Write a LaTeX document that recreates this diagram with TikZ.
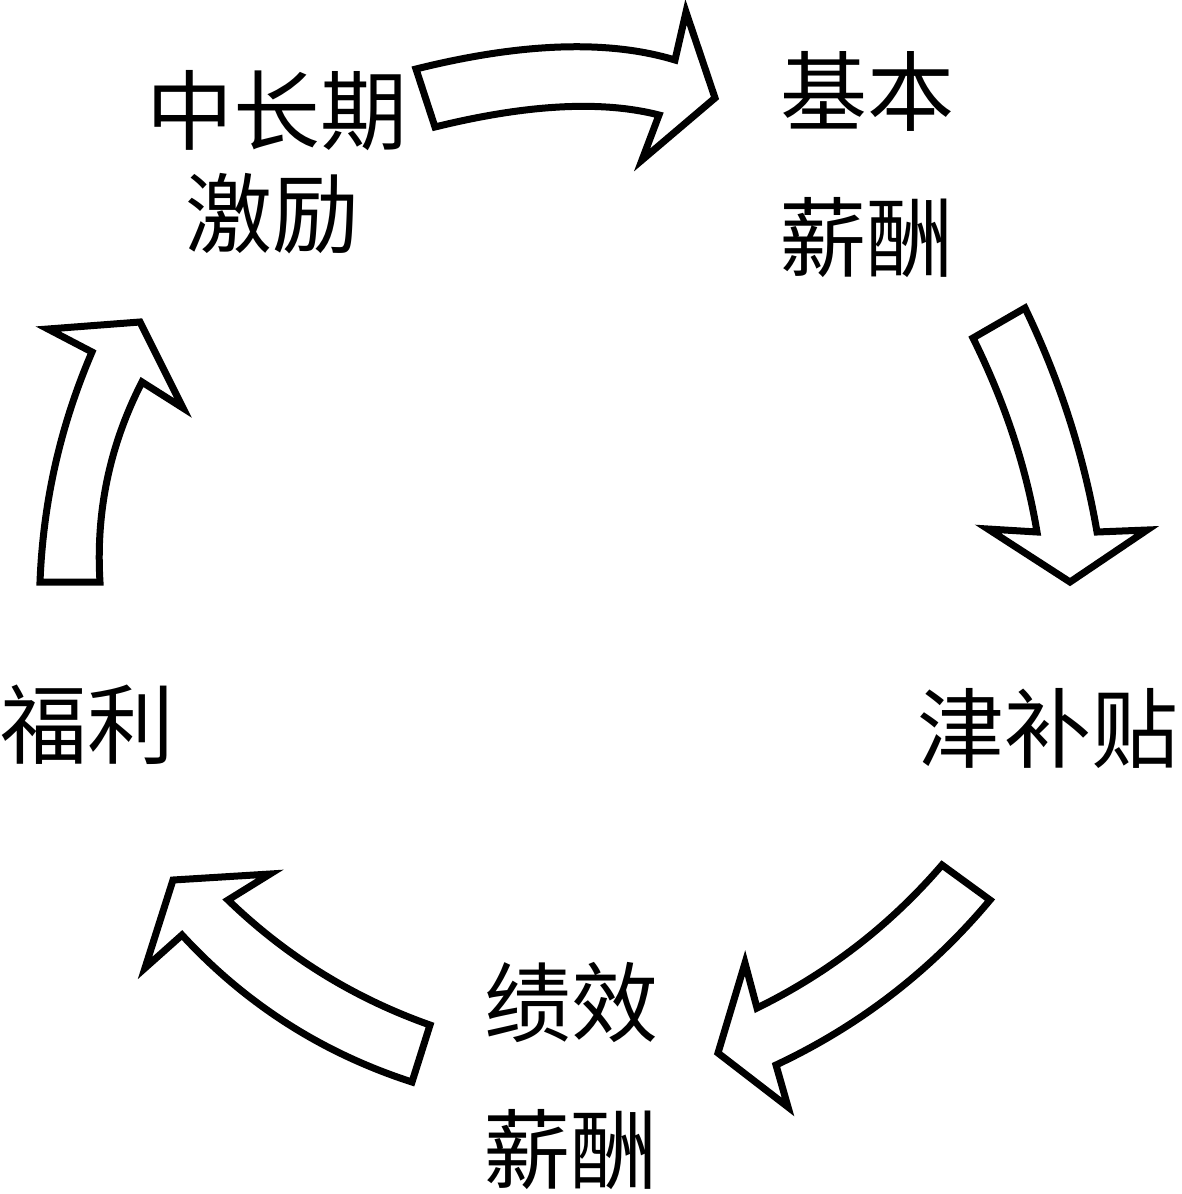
\documentclass[tikz,border=0pt]{standalone}
\usepackage{fontspec}
\newfontfamily\cjk{Noto Sans CJK SC}
\begin{document}
\begin{tikzpicture}[x=1pt,y=-1pt,
  blockarrow/.style={draw=black, line width=7pt, fill=white, line join=miter, miter limit=10},
  label/.style={font=\cjk\fontsize{87}{100}\selectfont, inner sep=0pt, anchor=center}]
\useasboundingbox (0,0) rectangle (1181,1194);
% labels
\node[label] (zcq) at (277,111) {中长期};
\node[label] (jl)  at (272,214) {激励};
\node[label] (jb)  at (867,91)  {基本};
\node[label] (xc1) at (866,238) {薪酬};
\node[label] (jbt) at (1048,728) {津补贴};
\node[label] (fl)  at (88,725)  {福利};
\node[label] (jx)  at (571,1003) {绩效};
\node[label] (xc2) at (570,1150) {薪酬};
% arrow 1: top
\draw[blockarrow] (416,69) .. controls (521.7,42.7) and (608,39.7) .. (675,60) -- (686,12) -- (715,98) -- (642,160) -- (659,115)
  .. controls (601.7,100.3) and (527,104.3) .. (435,127) -- cycle;
% arrow 2: right
\draw[blockarrow] (1025,308) .. controls (1059.7,380) and (1083.7,454.7) .. (1097,532) -- (1147,530) -- (1070,582) -- (988,529) -- (1037,532)
  .. controls (1026.3,467.3) and (1005,402.7) .. (973,338) -- cycle;
% arrow 3: bottom right
\draw[blockarrow] (990,900) .. controls (930.7,970.9) and (859.3,1025.9) .. (776,1065) -- (788,1107) -- (718,1053) -- (745,963) -- (757,1008)
  .. controls (828.4,973) and (890.1,925.3) .. (942,865) -- cycle;
% arrow 4: bottom left
\draw[blockarrow] (430,1025) .. controls (353.6,998) and (286.3,956.3) .. (228,900) -- (270,874) -- (173,880) -- (145,968) -- (182,935)
  .. controls (245.7,1004.1) and (322.4,1053.1) .. (412,1082) -- cycle;
% arrow 5: left
\draw[blockarrow] (100,582) .. controls (95.7,511.6) and (109.7,444.9) .. (142,382) -- (183,408) -- (140,322) -- (48,329) -- (92,352)
  .. controls (60.4,425.5) and (43.1,502.1) .. (40,582) -- cycle;
\end{tikzpicture}
\end{document}
